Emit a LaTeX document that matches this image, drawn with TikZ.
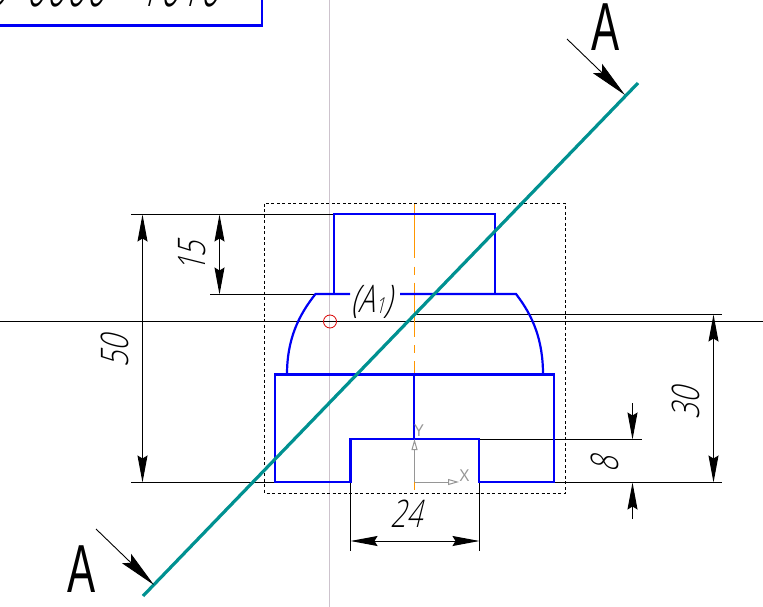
\documentclass[tikz,border=0pt]{standalone}
\usepackage{fontspec}
\setmainfont{Liberation Sans}
\newfontfamily\gost[Numbers=Lining]{Open Sans Light}
\usetikzlibrary{arrows.meta}
\definecolor{cblue}{RGB}{0,0,245}
\definecolor{cteal}{RGB}{0,145,145}
\definecolor{corange}{RGB}{255,150,0}
\definecolor{cgrey}{RGB}{150,150,150}
\definecolor{cpale}{RGB}{205,195,205}
\tikzset{
  part/.style={draw=cblue,line width=2.2pt},
  thin line/.style={draw=black,line width=1pt},
  dimline/.style={thin line,{Stealth[length=27pt,width=10pt,inset=3pt]}-{Stealth[length=27pt,width=10pt,inset=3pt]}},
  outarrow/.style={thin line,-{Stealth[length=27pt,width=10pt,inset=3pt]}},
  secarrow/.style={draw=black,line width=0.9pt,-{Stealth[length=38pt,width=13pt,inset=6pt]}},
  axis/.style={draw=cgrey,line width=1pt},
  lbl/.style={font=\gost\fontsize{38}{38}\selectfont,inner sep=0pt,transform shape,xslant=0.25,xscale=0.72},
  seclbl/.style={font=\fontsize{68}{68}\selectfont,inner sep=0pt,transform shape,xscale=0.62},
  axlbl/.style={text=cgrey,font=\fontsize{17}{17}\selectfont,inner sep=0pt,transform shape,xscale=0.9},
}
\begin{document}
\begin{tikzpicture}[x=1pt,y=-1pt]
\useasboundingbox (0,0) rectangle (763,607);
\begin{scope}
\clip (0,0) rectangle (763,607);
% construction lines
\draw[cpale,line width=1pt] (329.5,0) -- (329.5,607);
\draw[thin line] (0,321.5) -- (763,321.5);
\draw[black,line width=0.9pt,dash pattern=on 3pt off 2.5pt] (264.5,203.5) rectangle (565.5,493);
\draw[red!85!black,line width=0.8pt] (330,321.5) circle[radius=6.5];
% axis
\draw[corange,line width=1.2pt,dash pattern=on 54pt off 8.5pt on 8pt off 8pt] (414.5,204) -- (414.5,490);
% extension lines
\draw[thin line] (131,214.5) -- (334,214.5);
\draw[thin line] (210,294.5) -- (315,294.5);
\draw[thin line] (131,482.5) -- (275,482.5);
\draw[thin line] (479,482.5) -- (722,482.5);
\draw[thin line] (479,439.5) -- (642,439.5);
\draw[thin line] (414,314.5) -- (722,314.5);
\draw[thin line] (350.5,482) -- (350.5,551);
\draw[thin line] (479.5,482) -- (479.5,551);
% outline
\draw[part] (0,25.5) -- (262,25.5) -- (262,0);
\draw[part] (334,294) -- (334,214) -- (495,214) -- (495,294);
\draw[part] (350,294) -- (315.5,294) .. controls (298,316) and (287,340) .. (287,374.5);
\draw[part] (400,294) -- (516,294) .. controls (533,316) and (543,340) .. (543,374.5);
\draw[part] (350.5,482) -- (275,482) -- (275,374.5) -- (554,374.5) -- (554,482) -- (479,482) -- (479,439) -- (350.5,439) -- cycle;
\draw[part] (414,374.5) -- (414,439);
% dimensions
\draw[dimline] (142.5,214.5) -- (142.5,482.5);
\draw[dimline] (219.5,214.5) -- (219.5,294.5);
\draw[dimline] (713.5,314.5) -- (713.5,482.5);
\draw[dimline] (350.5,541) -- (479.5,541);
\draw[outarrow] (632.5,403) -- (632.5,439.5);
\draw[outarrow] (632.5,519) -- (632.5,482.5);
% cutting plane
\draw[cteal,line width=3.2pt] (143,596) -- (638,83);
\draw[secarrow] (567,39) -- (625,95);
\draw[secarrow] (96,529) -- (154,585);
% axes indicator
\draw[axis,-{Triangle[open,fill=white,length=11pt,width=6pt]}] (414.5,482) -- (414.5,439);
\draw[axis,-{Triangle[open,fill=white,length=11pt,width=6pt]}] (414.5,482) -- (459,482);
\node[axlbl] (ylab) at (419,431) {Y};
\node[axlbl] (xlab) at (464.5,476) {X};
% labels
\node[lbl] (a1) at (374.5,302) {(A\hspace{1pt}\fontsize{22}{22}\selectfont\raisebox{-1pt}{1}\fontsize{38}{38}\selectfont)};
\node[lbl] (d24) at (410,513.5) {24};
\node[rotate=90,lbl] (d15) at (192,254) {15};
\node[rotate=90,lbl] (d50) at (115,348) {50};
\node[rotate=90,lbl] (d30) at (686,400) {30};
\node[rotate=90,lbl] (d8) at (605,461) {8};
\node[seclbl] (secA) at (606,27) {A};
\node[seclbl] (secB) at (82,569) {A};
\node[lbl,font=\gost\fontsize{70}{70}\selectfont,xscale=0.7,anchor=base west] (title) at (-14,7) {3\hspace{20pt} 0000\hspace{47pt} 1010};
\end{scope}
\end{tikzpicture}
\end{document}
